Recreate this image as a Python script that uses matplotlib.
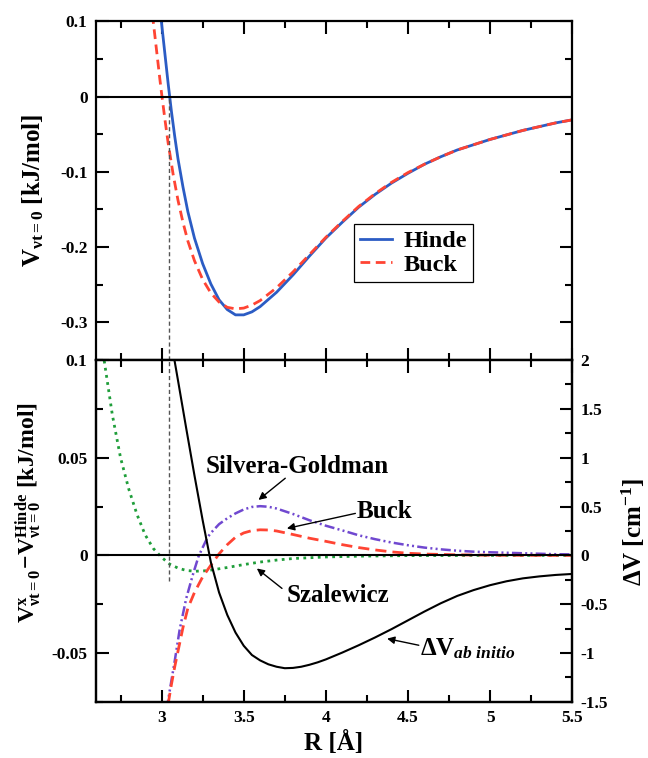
import numpy as np
import matplotlib
matplotlib.use("Agg")
import matplotlib.pyplot as plt
from matplotlib.ticker import MultipleLocator, FuncFormatter

plt.rcParams['font.family'] = ['Liberation Serif', 'DejaVu Serif']
plt.rcParams['font.weight'] = 'bold'
plt.rcParams['axes.labelweight'] = 'bold'
plt.rcParams['mathtext.fontset'] = 'custom'
plt.rcParams['mathtext.rm'] = 'Liberation Serif:bold'
plt.rcParams['mathtext.bf'] = 'Liberation Serif:bold'
plt.rcParams['mathtext.it'] = 'Liberation Serif:italic:bold'
plt.rcParams['mathtext.default'] = 'bf'
plt.rcParams['axes.unicode_minus'] = False

# top panel: V_vt=0 in kJ/mol
r_hinde = [2.98, 3.00, 3.02, 3.04, 3.06, 3.08, 3.10, 3.13, 3.16, 3.20, 3.25, 3.30,
           3.35, 3.40, 3.45, 3.50, 3.55, 3.60, 3.70, 3.80, 3.90, 4.00, 4.10, 4.20,
           4.30, 4.40, 4.50, 4.60, 4.70, 4.80, 4.90, 5.00, 5.10, 5.20, 5.30, 5.40, 5.50]
v_hinde = [0.140, 0.097, 0.057, 0.017, -0.020, -0.053, -0.083, -0.120, -0.153, -0.188,
           -0.222, -0.249, -0.270, -0.283, -0.290, -0.290, -0.286, -0.279, -0.260,
           -0.237, -0.212, -0.188, -0.167, -0.147, -0.130, -0.115, -0.102, -0.090,
           -0.080, -0.071, -0.064, -0.057, -0.051, -0.045, -0.040, -0.035, -0.031]

r_buck = [2.93, 2.95, 2.97, 2.99, 3.00, 3.02, 3.04, 3.07, 3.10, 3.13, 3.16, 3.20,
          3.25, 3.30, 3.35, 3.40, 3.45, 3.50, 3.55, 3.60, 3.70, 3.80, 3.90, 4.00,
          4.10, 4.20, 4.30, 4.40, 4.50, 4.60, 4.70, 4.80, 4.90, 5.00, 5.10, 5.20,
          5.30, 5.40, 5.50]
v_buck = [0.135, 0.098, 0.060, 0.022, 0.004, -0.030, -0.062, -0.103, -0.138, -0.167,
          -0.192, -0.218, -0.243, -0.261, -0.273, -0.280, -0.282, -0.281, -0.277,
          -0.271, -0.254, -0.233, -0.210, -0.187, -0.166, -0.146, -0.129, -0.114,
          -0.101, -0.090, -0.080, -0.071, -0.064, -0.057, -0.051, -0.045, -0.040,
          -0.035, -0.031]

# bottom panel: V^x - V^Hinde in kJ/mol
r_sg = [3.03, 3.05, 3.08, 3.11, 3.15, 3.19, 3.225, 3.25, 3.28, 3.30, 3.35, 3.40, 3.45,
        3.50, 3.55, 3.60, 3.65, 3.70, 3.80, 3.90, 4.00, 4.10, 4.20, 4.30, 4.40, 4.50,
        4.60, 4.70, 4.80, 4.90, 5.00, 5.20, 5.40, 5.50]
d_sg = [-0.079, -0.069, -0.054, -0.038, -0.022, -0.010, -0.0005, 0.004, 0.0093, 0.0115,
        0.0160, 0.0190, 0.0215, 0.0235, 0.0248, 0.0252, 0.0249, 0.0240, 0.0212, 0.0180,
        0.0152, 0.0128, 0.0103, 0.0083, 0.0066, 0.0052, 0.0040, 0.0031, 0.0024,
        0.0019, 0.0016, 0.0011, 0.0006, 0.0005]

r_bk = [3.04, 3.06, 3.08, 3.10, 3.13, 3.16, 3.20, 3.25, 3.30, 3.35, 3.40, 3.45, 3.50,
        3.55, 3.60, 3.65, 3.70, 3.80, 3.90, 4.00, 4.10, 4.20, 4.30, 4.40, 4.50, 4.60,
        4.80, 5.00, 5.50]
d_bk = [-0.076, -0.066, -0.057, -0.049, -0.037, -0.027, -0.019, -0.011, -0.005, 0.0008,
        0.0055, 0.0093, 0.0115, 0.0127, 0.0131, 0.0130, 0.0125, 0.0107, 0.0088, 0.0072,
        0.0055, 0.0040, 0.0028, 0.0018, 0.0011, 0.0007, 0.0003, 0.0001, 0.0]

r_sz = [2.64, 2.65, 2.70, 2.75, 2.80, 2.85, 2.90, 2.95, 3.00, 3.05, 3.10, 3.15, 3.20,
        3.25, 3.30, 3.40, 3.50, 3.60, 3.70, 3.80, 4.00, 4.20, 4.50, 5.00, 5.50]
d_sz = [0.107, 0.100, 0.072, 0.050, 0.034, 0.021, 0.0105, 0.0035, -0.001, -0.0045,
        -0.0065, -0.0077, -0.0081, -0.0080, -0.0075, -0.0062, -0.0047, -0.0034,
        -0.0024, -0.0016, -0.0008, -0.0004, -0.0001, 0.0, 0.0]

# ab initio difference in cm^-1 (right axis)
r_ab = [3.07, 3.10, 3.15, 3.20, 3.25, 3.30, 3.35, 3.40, 3.45, 3.50, 3.55, 3.60, 3.65,
        3.70, 3.75, 3.80, 3.85, 3.90, 3.95, 4.00, 4.05, 4.10, 4.20, 4.30, 4.40, 4.50,
        4.60, 4.70, 4.80, 4.90, 5.00, 5.10, 5.20, 5.30, 5.40, 5.50]
d_ab = [2.08, 1.79, 1.30, 0.82, 0.36, -0.07, -0.38, -0.61, -0.79, -0.925, -1.02,
        -1.075, -1.115, -1.14, -1.155, -1.152, -1.14, -1.12, -1.095, -1.065, -1.03,
        -0.995, -0.92, -0.84, -0.755, -0.665, -0.575, -0.49, -0.415, -0.355, -0.305,
        -0.265, -0.235, -0.215, -0.20, -0.19]

r_cross = 3.047

fmt = FuncFormatter(lambda v, p: '%g' % round(v, 4))


def style_axis(ax):
    ax.tick_params(which='both', direction='in', width=1.5, labelsize=12.5, pad=6)
    ax.tick_params(which='major', length=9)
    ax.tick_params(which='minor', length=5)
    for s in ax.spines.values():
        s.set_linewidth(1.6)


fig = plt.figure(figsize=(6.48, 7.58), dpi=100)
ax1 = fig.add_axes([0.148, 0.525, 0.735, 0.447])
ax2 = fig.add_axes([0.148, 0.074, 0.735, 0.451])

# top panel
ax1.plot(r_hinde, v_hinde, color='#2b5cc4', lw=2, label='Hinde')
ax1.plot(r_buck, v_buck, color='#ff4433', lw=2, dashes=(3.5, 2), label='Buck')
ax1.axhline(0, color='k', lw=1.5)
ax1.axvline(r_cross, ymin=0, ymax=0.35 / 0.45, color='#555555', lw=1, dashes=(3, 2))
ax1.set_xlim(2.6, 5.5)
ax1.set_ylim(-0.35, 0.1)
ax1.xaxis.set_major_locator(MultipleLocator(0.5))
ax1.xaxis.set_minor_locator(MultipleLocator(0.25))
ax1.yaxis.set_major_locator(MultipleLocator(0.1))
ax1.yaxis.set_minor_locator(MultipleLocator(0.05))
ax1.yaxis.set_major_formatter(fmt)
style_axis(ax1)
ax1.tick_params(which='both', top=True, right=True, labelbottom=False)
ax1.set_ylabel(r'$V_{\nu t=0}$ [kJ/mol]', fontsize=18)
ax1.yaxis.set_label_coords(-0.105, 0.5)
leg = ax1.legend(loc='upper left', bbox_to_anchor=(0.542, 0.401), borderaxespad=0,
                 fontsize=17.5, fancybox=False, edgecolor='k', framealpha=1,
                 handlelength=1.3, handletextpad=0.5, labelspacing=0.05, borderpad=0.25)
leg.get_frame().set_linewidth(0.9)

# bottom panel
ax2.plot(r_sz, d_sz, color='#1f9e3a', lw=2, linestyle=(0, (1, 1.6)))
ax2.plot(r_sg, d_sg, color='#7048d0', lw=1.8, dashes=(4, 1.3, 0.8, 1.3, 0.8, 1.3))
ax2.plot(r_bk, d_bk, color='#ff4433', lw=2, dashes=(4, 2.2))
ax2.axhline(0, color='k', lw=1.5)
ax2.axvline(r_cross, ymin=(0.075 - 0.0133) / 0.175, ymax=1, color='#555555', lw=1,
            dashes=(3, 2))
ax2.set_xlim(2.6, 5.5)
ax2.set_ylim(-0.075, 0.1)
ax2.xaxis.set_major_locator(MultipleLocator(0.5))
ax2.xaxis.set_minor_locator(MultipleLocator(0.25))
ax2.yaxis.set_major_locator(MultipleLocator(0.05))
ax2.yaxis.set_minor_locator(MultipleLocator(0.025))
ax2.xaxis.set_major_formatter(fmt)
ax2.yaxis.set_major_formatter(fmt)
style_axis(ax2)
ax2.tick_params(which='both', top=True, right=False)
ax2.set_xlabel('R [Å]', fontsize=18)
ax2.xaxis.set_label_coords(0.5, -0.085)
ax2.set_ylabel(r'$V^{x}_{\nu t=0}\!-\!V^{Hinde}_{\nu t=0}$ [kJ/mol]', fontsize=17)
ax2.yaxis.set_label_coords(-0.11, 0.553)

ax2r = ax2.twinx()
ax2r.plot(r_ab, d_ab, color='k', lw=1.5)
ax2r.set_ylim(-1.5, 2)
ax2r.yaxis.set_major_locator(MultipleLocator(0.5))
ax2r.yaxis.set_minor_locator(MultipleLocator(0.25))
ax2r.yaxis.set_major_formatter(fmt)
style_axis(ax2r)
ax2r.set_ylabel(r'$\Delta V$ [cm$^{-1}$]', fontsize=18)
ax2r.yaxis.set_label_coords(1.10, 0.497)

arrow = dict(arrowstyle='-|>', color='k', lw=1, mutation_scale=11, shrinkA=0, shrinkB=0)
ax2.text(3.826, 0.0456, 'Silvera-Goldman', fontsize=18, ha='center', va='center')
ax2.annotate('', xy=(3.59, 0.0284), xytext=(3.753, 0.0395), arrowprops=arrow)
ax2.text(4.357, 0.0224, 'Buck', fontsize=18, ha='center', va='center')
ax2.annotate('', xy=(3.763, 0.0138), xytext=(4.18, 0.0215), arrowprops=arrow)
ax2.text(4.073, -0.0203, 'Szalewicz', fontsize=18, ha='center', va='center')
ax2.annotate('', xy=(3.58, -0.0067), xytext=(3.733, -0.0169), arrowprops=arrow)
ax2.text(4.576, -0.0511, r'$\Delta V_{\mathit{ab\ initio}}$', fontsize=18,
         ha='left', va='baseline')
ax2.annotate('', xy=(4.373, -0.0426), xytext=(4.566, -0.046), arrowprops=arrow)

fig.savefig('out.png', dpi=100)
